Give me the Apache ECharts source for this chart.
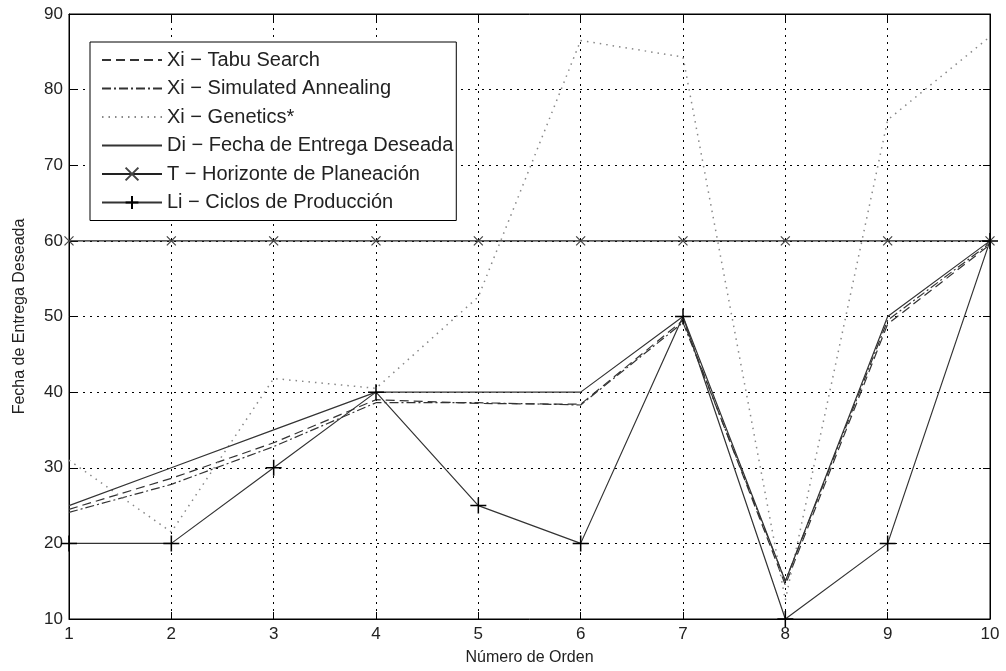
<!DOCTYPE html>
<html><head><meta charset="utf-8">
<script src="https://cdn.jsdelivr.net/npm/echarts@6/dist/echarts.min.js"></script>
<style>html,body{margin:0;padding:0;background:#fff}#c{width:1006px;height:671px}</style>
</head><body><div id="c"></div>
<script>
const orders = [1,2,3,4,5,6,7,8,9,10];
const xiTabu = [24.5,28.6,33.3,39,38.5,38.4,49.5,14.5,49,59.5];
const xiSA = [24.1,27.8,32.8,38.6,38.6,38.3,49.2,15,49.5,59.7];
const xiGenetics = [31,21.5,41.8,40.5,52.6,86.5,84.3,12.5,76,87];
const di = [25,30,35,40,40,40,50,15,50,60];
const horizonte = [60,60,60,60,60,60,60,60,60,60];
const li = [20,20,30,40,25,20,50,10,20,60];
const yTicks = [10,20,30,40,50,60,70,80,90];
const seriesNames = ['Xi − Tabu Search','Xi − Simulated Annealing','Xi − Genetics*','Di − Fecha de Entrega Deseada','T − Horizonte de Planeación','Li − Ciclos de Producción'];

const pairs = a => orders.map((x,i)=>[x,a[i]]);
const font = 'Liberation Sans, Arial, sans-serif';
const crossPath = 'path://M0,0L10,10M10,0L0,10';
const plusPath = 'path://M5,0L5,10M0,5L10,5';

const chart = echarts.init(document.getElementById('c'), null, {renderer:'canvas'});
const gridLine = {show:true, lineStyle:{color:'#000', type:[2,5], width:1}};
chart.setOption({
  animation:false,
  backgroundColor:'#fff',
  grid:{left:69, right:16, top:14, bottom:52, show:true, borderColor:'#000', borderWidth:1},
  xAxis:[{type:'value', min:1, max:10, interval:1, position:'bottom',
    name:'Número de Orden', nameLocation:'middle', nameGap:31,
    nameTextStyle:{fontFamily:font, fontSize:16, color:'#222'},
    axisLine:{show:true, lineStyle:{color:'#000'}},
    axisTick:{inside:true, length:7, lineStyle:{color:'#000'}},
    axisLabel:{fontFamily:font, fontSize:17, color:'#222', margin:7},
    splitLine:gridLine},
   {type:'value', min:1, max:10, interval:1, position:'top',
    axisLine:{show:true, lineStyle:{color:'#000'}},
    axisTick:{inside:true, length:7, lineStyle:{color:'#000'}},
    axisLabel:{show:false}, splitLine:{show:false}}],
  yAxis:[{type:'value', min:10, max:90, interval:10, position:'left',
    name:'Fecha de Entrega Deseada', nameLocation:'middle', nameGap:41, nameRotate:90,
    nameTextStyle:{fontFamily:font, fontSize:16, color:'#222'},
    axisLine:{show:true, lineStyle:{color:'#000'}},
    axisTick:{inside:true, length:7, lineStyle:{color:'#000'}},
    axisLabel:{fontFamily:font, fontSize:17, color:'#222', margin:6,
      formatter:v=>yTicks.includes(v)?String(v):''},
    splitLine:gridLine},
   {type:'value', min:10, max:90, interval:10, position:'right',
    axisLine:{show:true, lineStyle:{color:'#000'}},
    axisTick:{inside:true, length:7, lineStyle:{color:'#000'}},
    axisLabel:{show:false}, splitLine:{show:false}}],
  legend:{
    left:90, top:42, orient:'vertical', itemWidth:60, itemHeight:16, itemGap:8.5,
    backgroundColor:'#fff', borderColor:'#000', borderWidth:1, padding:[8,3,8,11],
    textStyle:{fontFamily:font, fontSize:20, color:'#222'},
    data:seriesNames.map((n,i)=>i<4?{name:n, itemStyle:{color:'rgba(0,0,0,0)', borderWidth:0, opacity:0}}:{name:n})
  },
  series:[
    {name:seriesNames[0], type:'line', data:pairs(xiTabu), symbol:'none', z:3,
     lineStyle:{color:'#333', width:1.2, type:[9,5]}, itemStyle:{color:'#333'}},
    {name:seriesNames[1], type:'line', data:pairs(xiSA), symbol:'none', z:3,
     lineStyle:{color:'#333', width:1.2, type:[9,3,2,3]}, itemStyle:{color:'#333'}},
    {name:seriesNames[2], type:'line', data:pairs(xiGenetics), symbol:'none', z:3,
     lineStyle:{color:'#888', width:1.5, type:[1.5,5]}, itemStyle:{color:'#888'}},
    {name:seriesNames[3], type:'line', data:pairs(di), symbol:'none', z:4,
     lineStyle:{color:'#333', width:1.2}, itemStyle:{color:'#333'}},
    {name:seriesNames[4], type:'line', data:pairs(horizonte), z:4,
     symbol:crossPath, symbolSize:9, showSymbol:true,
     lineStyle:{color:'#222', width:1.3},
     itemStyle:{color:'none', borderColor:'#444', borderWidth:1.2}},
    {name:seriesNames[5], type:'line', data:pairs(li), z:4,
     symbol:plusPath, symbolSize:16, showSymbol:true,
     lineStyle:{color:'#333', width:1.2},
     itemStyle:{color:'none', borderColor:'#000', borderWidth:1.5}}
  ]
});
</script></body></html>
